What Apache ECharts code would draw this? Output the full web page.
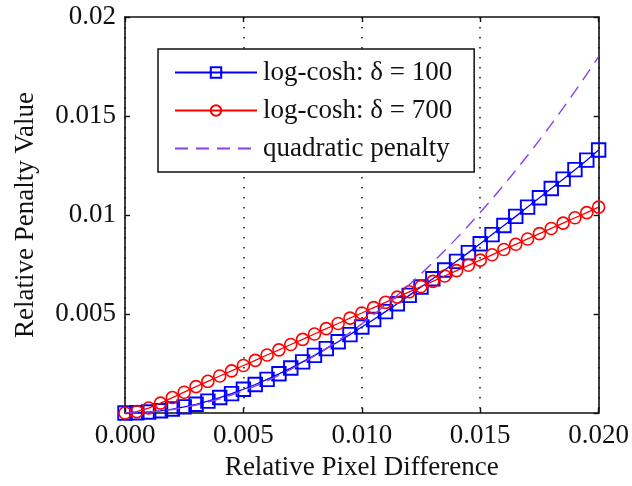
<!DOCTYPE html>
<html>
<head>
<meta charset="utf-8">
<script src="https://cdn.jsdelivr.net/npm/echarts@6/dist/echarts.min.js"></script>
<style>
html,body{margin:0;padding:0;background:#fff;}
#c{width:632px;height:486px;}
</style>
</head>
<body>
<div id="c"></div>
<script>
const xValues = [0,0.0005,0.001,0.0015,0.002,0.0025,0.003,0.0035,0.004,0.0045,0.005,0.0055,0.006,0.0065,0.007,0.0075,0.008,0.0085,0.009,0.0095,0.01,0.0105,0.011,0.0115,0.012,0.0125,0.013,0.0135,0.014,0.0145,0.015,0.0155,0.016,0.0165,0.017,0.0175,0.018,0.0185,0.019,0.0195,0.02];
const blueValues = [0,0.00001,0.00005,0.00011,0.0002,0.00031,0.00044,0.0006,0.00078,0.00098,0.0012,0.00144,0.0017,0.00198,0.00227,0.00258,0.00291,0.00325,0.0036,0.00396,0.00434,0.00472,0.00512,0.00552,0.00594,0.00636,0.00678,0.00722,0.00766,0.0081,0.00855,0.00901,0.00947,0.00993,0.0104,0.01087,0.01134,0.01181,0.01229,0.01277,0.01328];
const redValues = [0,0.00007,0.00025,0.0005,0.00078,0.00105,0.00133,0.0016,0.00187,0.00213,0.0024,0.00266,0.00293,0.00319,0.00346,0.00372,0.00399,0.00426,0.00452,0.00479,0.00505,0.00532,0.00559,0.00585,0.00612,0.00639,0.00665,0.00692,0.00719,0.00746,0.00772,0.00799,0.00826,0.00852,0.00879,0.00906,0.00932,0.00959,0.00986,0.01012,0.0104];
const quadValues = [0,0.000011,0.000045,0.000101,0.00018,0.000281,0.000405,0.000551,0.00072,0.000911,0.001125,0.001361,0.00162,0.001901,0.002205,0.002531,0.00288,0.003251,0.003645,0.004061,0.0045,0.004961,0.005445,0.005951,0.00648,0.007031,0.007605,0.008201,0.00882,0.009461,0.010125,0.010811,0.01152,0.012251,0.013005,0.013781,0.01458,0.015401,0.016245,0.017111,0.018];
const seriesNames = ['log-cosh: δ = 100','log-cosh: δ = 700','quadratic penalty'];
const xTickLabels = ['0.000','0.005','0.010','0.015','0.020'];
const yTickLabels = ['','0.005','0.01','0.015','0.02'];

const FONT = 'Liberation Serif';
const pairs = v => xValues.map((x,i)=>[x,v[i]]);
const chart = echarts.init(document.getElementById('c'), null, {renderer:'canvas'});
const axisLine = {show:true, onZero:false, lineStyle:{color:'#111', width:1.6}};
const tick = {show:true, inside:true, length:5, lineStyle:{color:'#111', width:1.4}};
chart.setOption({
  animation:false,
  backgroundColor:'#fff',
  grid:{left:125,right:32,top:17,bottom:73,containLabel:false},
  legend:{
    orient:'vertical', left:158, top:49,
    padding:[10,22,10,16], itemGap:11, itemWidth:82, itemHeight:13,
    backgroundColor:'#fff', borderColor:'#111', borderWidth:1.5, borderRadius:0,
    textStyle:{fontFamily:FONT,fontSize:27,color:'#111',padding:[0,0,0,1]},
    data:[
      {name:seriesNames[0]},
      {name:seriesNames[1]},
      {name:seriesNames[2], itemStyle:{color:'rgba(0,0,0,0)',borderColor:'rgba(0,0,0,0)',borderWidth:0}}
    ]
  },
  xAxis:[{
    type:'value', min:0, max:0.02, interval:0.005,
    name:'Relative Pixel Difference', nameLocation:'middle', nameGap:41,
    nameTextStyle:{fontFamily:FONT,fontSize:27,color:'#111'},
    axisLine:axisLine, axisTick:tick,
    axisLabel:{fontFamily:FONT,fontSize:27,color:'#111',margin:9,
      formatter:(v)=>xTickLabels[Math.round(v/0.005)]},
    splitLine:{show:true,lineStyle:{color:'#222',width:1.6,type:[1.6,8.4]}}
  },{
    type:'value', position:'top', min:0, max:0.02, interval:0.005,
    axisLine:axisLine, axisTick:tick, axisLabel:{show:false}, splitLine:{show:false}
  }],
  yAxis:[{
    type:'value', min:0, max:0.02, interval:0.005,
    name:'Relative Penalty Value', nameLocation:'middle', nameGap:86, nameRotate:90,
    nameTextStyle:{fontFamily:FONT,fontSize:27,color:'#111'},
    axisLine:axisLine, axisTick:tick,
    axisLabel:{fontFamily:FONT,fontSize:27,color:'#111',margin:9,
      formatter:(v)=>yTickLabels[Math.round(v/0.005)]},
    splitLine:{show:false}
  },{
    type:'value', position:'right', min:0, max:0.02, interval:0.005,
    axisLine:axisLine, axisTick:tick, axisLabel:{show:false}, splitLine:{show:false}
  }],
  series:[{
    name:seriesNames[0], type:'line', data:pairs(blueValues),
    symbol:'rect', symbolSize:13.5, showAllSymbol:true,
    lineStyle:{color:'#0000ff',width:1.3},
    itemStyle:{color:'rgba(0,0,0,0)',borderColor:'#0000ff',borderWidth:1.9},
    z:2
  },{
    name:seriesNames[1], type:'line', data:pairs(redValues),
    symbol:'circle', symbolSize:12, showAllSymbol:true,
    lineStyle:{color:'#ff0000',width:1.3},
    itemStyle:{color:'rgba(0,0,0,0)',borderColor:'#ff0000',borderWidth:1.6},
    z:3
  },{
    name:seriesNames[2], type:'line', data:pairs(quadValues),
    symbol:'none',
    lineStyle:{color:'#8a3ff0',width:1.4,type:[13,8]},
    itemStyle:{color:'#8a3ff0'},
    z:4
  }]
});
</script>
</body>
</html>
